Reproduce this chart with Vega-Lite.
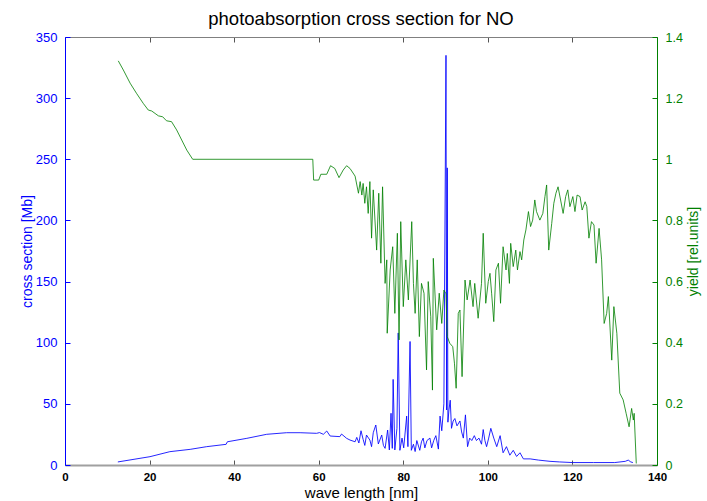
{
  "$schema": "https://vega.github.io/schema/vega-lite/v6.json",
  "width": 592,
  "height": 428,
  "autosize": {"type": "none"},
  "padding": {"left": 65, "top": 37, "right": 50, "bottom": 36},
  "background": "white",
  "config": {
    "view": {"stroke": null},
    "font": "Liberation Sans",
    "axis": {"grid": false, "labelFont": "Liberation Sans", "titleFont": "Liberation Sans", "titleFontWeight": "normal", "labelFlush": false}
  },
  "title": {"text": "photoabsorption cross section for NO", "fontSize": 18.5, "fontWeight": "normal", "color": "black", "offset": 3, "font": "Liberation Sans"},
  "datasets": {
    "blue": [
      {"x": 12.5, "cross": 2.5}, {"x": 20.1, "cross": 6.8}, {"x": 24.8, "cross": 10.9}, {"x": 29.6, "cross": 12.8},
      {"x": 33.5, "cross": 15.0}, {"x": 38.1, "cross": 16.9}, {"x": 38.4, "cross": 19.0}, {"x": 43.0, "cross": 21.8},
      {"x": 47.7, "cross": 25.1}, {"x": 52.4, "cross": 26.4}, {"x": 55.6, "cross": 26.4}, {"x": 59.5, "cross": 25.9},
      {"x": 60.2, "cross": 26.5}, {"x": 61.1, "cross": 25.1}, {"x": 61.9, "cross": 27.8}, {"x": 62.7, "cross": 23.7},
      {"x": 65.0, "cross": 23.2}, {"x": 65.4, "cross": 25.3}, {"x": 66.6, "cross": 21.8}, {"x": 67.4, "cross": 20.4},
      {"x": 68.6, "cross": 19.0}, {"x": 69.0, "cross": 22.6}, {"x": 69.5, "cross": 18.0}, {"x": 70.0, "cross": 28.0},
      {"x": 70.5, "cross": 21.0}, {"x": 70.9, "cross": 16.0}, {"x": 71.3, "cross": 24.5}, {"x": 72.1, "cross": 20.4},
      {"x": 72.5, "cross": 15.0}, {"x": 72.9, "cross": 26.4}, {"x": 73.5, "cross": 32.7}, {"x": 74.1, "cross": 17.2},
      {"x": 74.9, "cross": 24.5}, {"x": 75.3, "cross": 16.0}, {"x": 75.7, "cross": 13.6}, {"x": 76.3, "cross": 28.6},
      {"x": 76.7, "cross": 12.3}, {"x": 77.1, "cross": 42.3}, {"x": 77.4, "cross": 13.6}, {"x": 77.6, "cross": 70.0},
      {"x": 78.0, "cross": 12.3}, {"x": 78.5, "cross": 30.0}, {"x": 78.8, "cross": 108.0}, {"x": 79.2, "cross": 12.0},
      {"x": 79.7, "cross": 22.0}, {"x": 80.1, "cross": 14.0}, {"x": 80.8, "cross": 40.0}, {"x": 81.1, "cross": 15.0},
      {"x": 81.6, "cross": 101.0}, {"x": 81.9, "cross": 12.0}, {"x": 82.4, "cross": 17.0}, {"x": 82.8, "cross": 11.0},
      {"x": 83.2, "cross": 20.0}, {"x": 83.9, "cross": 12.0}, {"x": 84.3, "cross": 19.0}, {"x": 84.7, "cross": 22.0},
      {"x": 85.1, "cross": 14.0}, {"x": 85.6, "cross": 20.0}, {"x": 86.3, "cross": 22.0}, {"x": 86.7, "cross": 14.0},
      {"x": 87.2, "cross": 20.0}, {"x": 87.7, "cross": 24.0}, {"x": 88.3, "cross": 13.0}, {"x": 88.7, "cross": 40.0},
      {"x": 89.1, "cross": 28.0}, {"x": 89.6, "cross": 50.0}, {"x": 90.1, "cross": 335.0}, {"x": 90.25, "cross": 45.0},
      {"x": 90.4, "cross": 243.0}, {"x": 90.55, "cross": 35.0}, {"x": 90.8, "cross": 45.0}, {"x": 91.1, "cross": 53.0},
      {"x": 91.4, "cross": 30.0}, {"x": 91.8, "cross": 36.0}, {"x": 92.2, "cross": 38.0}, {"x": 92.7, "cross": 32.0},
      {"x": 93.4, "cross": 36.0}, {"x": 93.8, "cross": 27.0}, {"x": 94.2, "cross": 22.0}, {"x": 94.7, "cross": 41.0},
      {"x": 95.2, "cross": 15.0}, {"x": 95.7, "cross": 22.0}, {"x": 96.2, "cross": 20.0}, {"x": 96.8, "cross": 24.0},
      {"x": 97.3, "cross": 20.0}, {"x": 97.9, "cross": 22.0}, {"x": 98.5, "cross": 17.0}, {"x": 98.9, "cross": 29.0},
      {"x": 99.3, "cross": 20.0}, {"x": 99.7, "cross": 15.0}, {"x": 100.2, "cross": 22.0}, {"x": 100.7, "cross": 30.0},
      {"x": 101.4, "cross": 22.0}, {"x": 102.1, "cross": 15.0}, {"x": 102.9, "cross": 24.0}, {"x": 103.6, "cross": 10.0},
      {"x": 104.4, "cross": 15.0}, {"x": 105.2, "cross": 8.0}, {"x": 106.0, "cross": 12.0}, {"x": 106.8, "cross": 7.0},
      {"x": 107.6, "cross": 10.0}, {"x": 108.4, "cross": 5.0}, {"x": 110.0, "cross": 5.0}, {"x": 112.0, "cross": 4.0},
      {"x": 114.7, "cross": 3.0}, {"x": 117.0, "cross": 2.5}, {"x": 120.0, "cross": 2.0}, {"x": 125.0, "cross": 2.0},
      {"x": 130.0, "cross": 2.0}, {"x": 132.5, "cross": 3.0}, {"x": 133.2, "cross": 4.0}, {"x": 133.8, "cross": 2.5},
      {"x": 134.3, "cross": 2.0}
    ],
    "green": [
      {"x": 12.6, "yield": 1.322}, {"x": 13.8, "yield": 1.292}, {"x": 15.4, "yield": 1.249}, {"x": 16.9, "yield": 1.216},
      {"x": 18.5, "yield": 1.183}, {"x": 19.7, "yield": 1.161}, {"x": 20.5, "yield": 1.158}, {"x": 21.3, "yield": 1.15},
      {"x": 22.1, "yield": 1.142}, {"x": 23.1, "yield": 1.139}, {"x": 24.0, "yield": 1.126}, {"x": 25.2, "yield": 1.123},
      {"x": 26.4, "yield": 1.096}, {"x": 27.6, "yield": 1.063}, {"x": 28.8, "yield": 1.03}, {"x": 30.2, "yield": 1.0},
      {"x": 58.6, "yield": 1.0}, {"x": 58.8, "yield": 0.932}, {"x": 60.0, "yield": 0.932}, {"x": 60.5, "yield": 0.951},
      {"x": 61.9, "yield": 0.951}, {"x": 62.8, "yield": 0.979}, {"x": 63.8, "yield": 0.97}, {"x": 64.8, "yield": 0.94},
      {"x": 65.8, "yield": 0.965}, {"x": 66.6, "yield": 0.979}, {"x": 67.4, "yield": 0.97}, {"x": 68.6, "yield": 0.945},
      {"x": 69.4, "yield": 0.889}, {"x": 69.8, "yield": 0.927}, {"x": 70.2, "yield": 0.883}, {"x": 70.5, "yield": 0.921},
      {"x": 70.9, "yield": 0.856}, {"x": 71.3, "yield": 0.91}, {"x": 71.7, "yield": 0.823}, {"x": 72.1, "yield": 0.927},
      {"x": 72.5, "yield": 0.742}, {"x": 72.9, "yield": 0.9}, {"x": 73.7, "yield": 0.703}, {"x": 74.2, "yield": 0.889},
      {"x": 74.7, "yield": 0.66}, {"x": 75.1, "yield": 0.91}, {"x": 75.7, "yield": 0.594}, {"x": 76.1, "yield": 0.671},
      {"x": 76.2, "yield": 0.431}, {"x": 76.9, "yield": 0.638}, {"x": 77.5, "yield": 0.714}, {"x": 78.0, "yield": 0.496},
      {"x": 78.6, "yield": 0.758}, {"x": 79.0, "yield": 0.409}, {"x": 79.4, "yield": 0.796}, {"x": 80.0, "yield": 0.518},
      {"x": 80.6, "yield": 0.671}, {"x": 81.2, "yield": 0.54}, {"x": 82.0, "yield": 0.796}, {"x": 82.4, "yield": 0.594},
      {"x": 82.8, "yield": 0.496}, {"x": 83.3, "yield": 0.671}, {"x": 83.8, "yield": 0.42}, {"x": 84.3, "yield": 0.594},
      {"x": 84.9, "yield": 0.562}, {"x": 85.5, "yield": 0.311}, {"x": 85.9, "yield": 0.6}, {"x": 86.5, "yield": 0.485},
      {"x": 86.9, "yield": 0.245}, {"x": 87.1, "yield": 0.676}, {"x": 87.9, "yield": 0.442}, {"x": 88.5, "yield": 0.562},
      {"x": 89.1, "yield": 0.463}, {"x": 89.6, "yield": 0.572}, {"x": 90.1, "yield": 0.56}, {"x": 90.4, "yield": 0.42},
      {"x": 91.0, "yield": 0.398}, {"x": 91.7, "yield": 0.387}, {"x": 92.1, "yield": 0.333}, {"x": 92.5, "yield": 0.251},
      {"x": 93.0, "yield": 0.496}, {"x": 93.4, "yield": 0.507}, {"x": 93.9, "yield": 0.289}, {"x": 94.6, "yield": 0.605},
      {"x": 95.1, "yield": 0.54}, {"x": 95.8, "yield": 0.605}, {"x": 96.5, "yield": 0.518}, {"x": 96.9, "yield": 0.594},
      {"x": 97.7, "yield": 0.48}, {"x": 98.5, "yield": 0.594}, {"x": 98.9, "yield": 0.758}, {"x": 99.5, "yield": 0.529},
      {"x": 100.1, "yield": 0.6}, {"x": 100.5, "yield": 0.627}, {"x": 100.9, "yield": 0.56}, {"x": 101.4, "yield": 0.469},
      {"x": 101.9, "yield": 0.638}, {"x": 102.5, "yield": 0.66}, {"x": 103.0, "yield": 0.529}, {"x": 103.6, "yield": 0.714},
      {"x": 104.3, "yield": 0.638}, {"x": 104.6, "yield": 0.692}, {"x": 105.1, "yield": 0.594}, {"x": 105.4, "yield": 0.725},
      {"x": 106.0, "yield": 0.649}, {"x": 106.6, "yield": 0.703}, {"x": 107.0, "yield": 0.638}, {"x": 107.6, "yield": 0.698},
      {"x": 108.0, "yield": 0.671}, {"x": 108.5, "yield": 0.736}, {"x": 109.0, "yield": 0.769}, {"x": 109.6, "yield": 0.829},
      {"x": 110.1, "yield": 0.78}, {"x": 110.6, "yield": 0.801}, {"x": 111.1, "yield": 0.867}, {"x": 111.5, "yield": 0.829},
      {"x": 112.3, "yield": 0.801}, {"x": 113.0, "yield": 0.823}, {"x": 113.5, "yield": 0.878}, {"x": 113.9, "yield": 0.916},
      {"x": 114.4, "yield": 0.703}, {"x": 115.1, "yield": 0.79}, {"x": 115.6, "yield": 0.856}, {"x": 116.1, "yield": 0.889},
      {"x": 116.6, "yield": 0.91}, {"x": 117.2, "yield": 0.867}, {"x": 117.8, "yield": 0.823}, {"x": 118.4, "yield": 0.878},
      {"x": 118.9, "yield": 0.9}, {"x": 119.4, "yield": 0.845}, {"x": 120.1, "yield": 0.878}, {"x": 120.6, "yield": 0.829},
      {"x": 121.1, "yield": 0.883}, {"x": 121.8, "yield": 0.878}, {"x": 122.3, "yield": 0.834}, {"x": 123.0, "yield": 0.861},
      {"x": 123.4, "yield": 0.845}, {"x": 123.9, "yield": 0.742}, {"x": 124.5, "yield": 0.796}, {"x": 125.1, "yield": 0.785},
      {"x": 125.6, "yield": 0.66}, {"x": 126.3, "yield": 0.774}, {"x": 126.9, "yield": 0.671}, {"x": 127.5, "yield": 0.463},
      {"x": 128.1, "yield": 0.496}, {"x": 128.5, "yield": 0.551}, {"x": 129.3, "yield": 0.343}, {"x": 129.8, "yield": 0.518},
      {"x": 130.5, "yield": 0.431}, {"x": 131.2, "yield": 0.235}, {"x": 132.0, "yield": 0.213}, {"x": 132.7, "yield": 0.169},
      {"x": 133.4, "yield": 0.125}, {"x": 134.0, "yield": 0.185}, {"x": 134.4, "yield": 0.147}, {"x": 134.6, "yield": 0.169},
      {"x": 135.1, "yield": 0.005}
    ]
  },
  "layer": [
    {
      "data": {"name": "blue"},
      "mark": {"type": "line", "color": "#0000ff", "strokeWidth": 1, "opacity": 0.85},
      "encoding": {
        "x": {
          "field": "x", "type": "quantitative",
          "scale": {"domain": [0, 140], "nice": false, "zero": false},
          "axis": {
            "orient": "bottom", "values": [0, 20, 40, 60, 80, 100, 120, 140],
            "title": "wave length [nm]", "titleFontSize": 15, "titleColor": "black", "titlePadding": 3,
            "labelFontSize": 11.5, "labelFontWeight": "bold", "labelColor": "black", "labelPadding": 11,
            "domainColor": "#a0a0a0", "domainWidth": 2, "tickColor": "#555555", "tickSize": -5, "tickWidth": 1
          }
        },
        "y": {
          "field": "cross", "type": "quantitative",
          "scale": {"domain": [0, 350], "nice": false},
          "axis": {
            "orient": "left", "values": [0, 50, 100, 150, 200, 250, 300, 350],
            "title": "cross section [Mb]", "titleFontSize": 14, "titleColor": "#0000ff", "titlePadding": 1,
            "labelFontSize": 13, "labelColor": "#0000ff", "labelPadding": 13,
            "domainColor": "#0000ff", "domainWidth": 1, "tickColor": "#0000ff", "tickSize": -5
          }
        }
      }
    },
    {
      "data": {"name": "green"},
      "mark": {"type": "line", "color": "#008000", "strokeWidth": 1, "opacity": 0.8},
      "encoding": {
        "x": {
          "field": "x", "type": "quantitative",
          "scale": {"domain": [0, 140], "nice": false, "zero": false},
          "axis": {
            "orient": "top", "values": [0, 20, 40, 60, 80, 100, 120, 140],
            "title": null, "labels": false,
            "domainColor": "#808080", "domainWidth": 1, "tickColor": "#555555", "tickSize": -5
          }
        },
        "y": {
          "field": "yield", "type": "quantitative",
          "scale": {"domain": [0, 1.4], "nice": false},
          "axis": {
            "orient": "right", "values": [0, 0.2, 0.4, 0.6, 0.8, 1, 1.2, 1.4], "format": "~g",
            "title": "yield [rel.units]", "titleFontSize": 14, "titleColor": "#008000", "titleAngle": -90, "titlePadding": 18,
            "labelFontSize": 12.5, "labelColor": "#008000", "labelPadding": 13,
            "domainColor": "#008000", "domainWidth": 1, "tickColor": "#008000", "tickSize": -5
          }
        }
      }
    }
  ],
  "resolve": {"scale": {"y": "independent"}, "axis": {"x": "independent"}}
}
